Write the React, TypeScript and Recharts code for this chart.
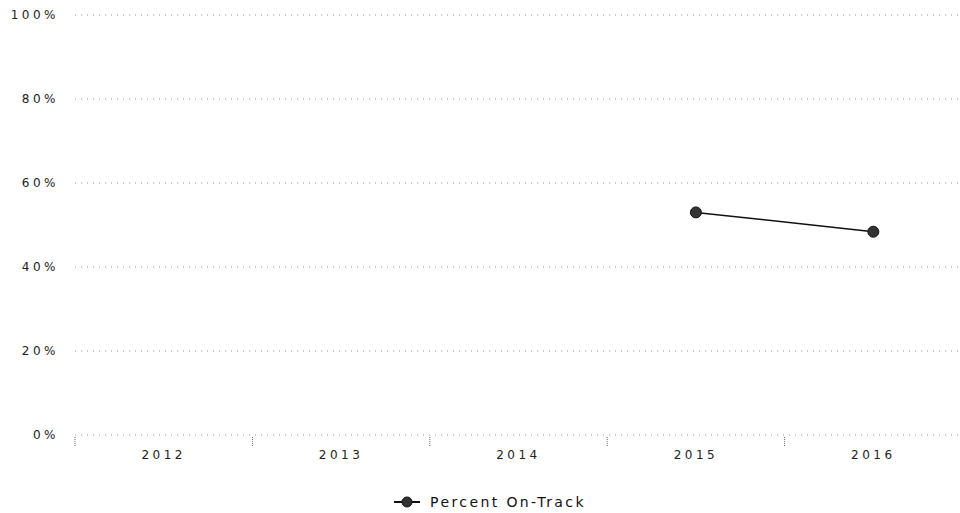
import React from 'react';
import { LineChart, Line, XAxis, YAxis, CartesianGrid, Legend } from 'recharts';

const years = [2012, 2013, 2014, 2015, 2016];
const percentOnTrack: (number | null)[] = [null, null, null, 53.0, 48.4];
const yTicks = [0, 20, 40, 60, 80, 100];
const bandEdges = [2011.5, 2012.5, 2013.5, 2014.5, 2015.5, 2016.5];
const seriesName = 'Percent On-Track';

const data = years.map((y, i) => ({ year: y, value: percentOnTrack[i] }));

const font = '"DejaVu Sans", Verdana, sans-serif';

const LegendContent = () => (
  <div style={{ display: 'flex', justifyContent: 'center', alignItems: 'center', paddingLeft: 20, fontFamily: font }}>
    <svg width={28} height={14} style={{ marginRight: 8 }}>
      <line x1={0} y1={7} x2={26} y2={7} stroke="#111" strokeWidth={2} />
      <circle cx={13} cy={7} r={5} fill="#333" stroke="#111" strokeWidth={1} />
    </svg>
    <span style={{ fontSize: 14, letterSpacing: 2.4, color: '#111' }}>{seriesName}</span>
  </div>
);

export default function App() {
  return (
    <div style={{ position: 'absolute', left: 0, top: 0, background: '#fff' }}>
      <LineChart width={960} height={513} data={data} margin={{ top: 15, right: -2, left: 15, bottom: 48 }}>
        <CartesianGrid xAxisId="lab" horizontal vertical={false} stroke="#999" strokeDasharray="1 5" />
        <XAxis
          xAxisId="tk"
          dataKey="year"
          type="number"
          domain={[2011.5, 2016.5]}
          ticks={bandEdges}
          height={29}
          axisLine={false}
          tickLine={{ stroke: '#666', strokeDasharray: '1 1' }}
          tickSize={10}
          tickFormatter={() => ''}
          interval={0}
        />
        <XAxis
          xAxisId="lab"
          dataKey="year"
          type="number"
          domain={[2011.5, 2016.5]}
          ticks={years}
          height={1}
          axisLine={false}
          tickLine={false}
          tickSize={6}
          tickMargin={9}
          interval={0}
          tick={{ fontSize: 12, fill: '#222', fontFamily: font, letterSpacing: 3.5 }}
        />
        <YAxis
          domain={[0, 100]}
          ticks={yTicks}
          width={60}
          axisLine={false}
          tickLine={false}
          tickSize={8}
          tickMargin={8}
          tickFormatter={(v: number) => `${v}%`}
          tick={{ fontSize: 12, fill: '#222', fontFamily: font, letterSpacing: 3.5 }}
        />
        <Legend
          verticalAlign="middle"
          align="center"
          content={<LegendContent />}
          wrapperStyle={{ top: 494, left: 0, width: 960 }}
        />
        <Line
          xAxisId="lab"
          dataKey="value"
          name={seriesName}
          stroke="#111"
          strokeWidth={1.5}
          dot={{ r: 5.5, fill: '#333', stroke: '#111', strokeWidth: 1 }}
          activeDot={false}
          isAnimationActive={false}
        />
      </LineChart>
    </div>
  );
}
